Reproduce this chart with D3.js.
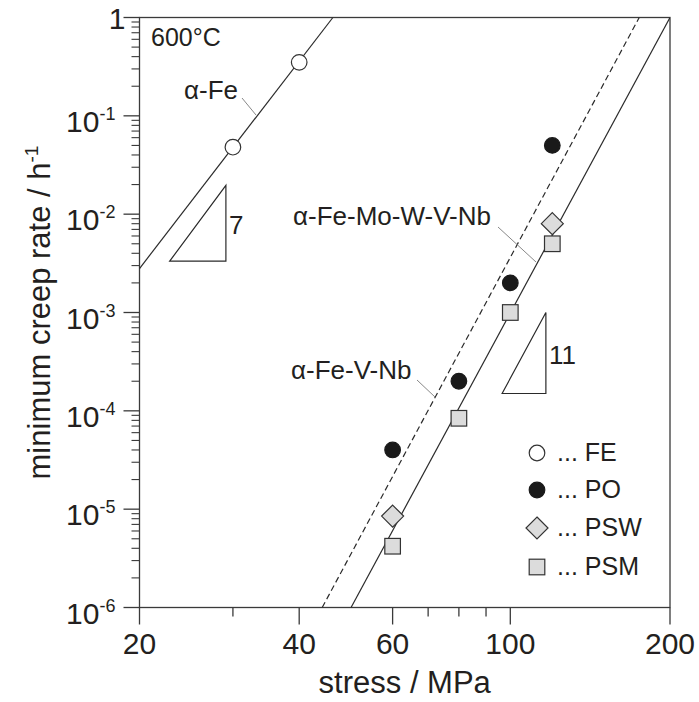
<!DOCTYPE html>
<html>
<head>
<meta charset="utf-8">
<script src="https://cdn.jsdelivr.net/npm/d3@7"></script>
<style>
  html, body { margin: 0; padding: 0; background: #fff; }
  svg { display: block; }
  text { font-family: "Liberation Sans", Arial, Helvetica, sans-serif; fill: #231f20; }
</style>
</head>
<body>
<svg id="chart" width="699" height="702"></svg>
<script>
// Measured minimum creep rates at 600 °C (stress in MPa, rate in 1/h)
const feStress  = [30, 40];
const feRate    = [0.048, 0.35];
const poStress  = [60, 80, 100, 120];
const poRate    = [4e-5, 2e-4, 2e-3, 0.05];
const pswStress = [60, 120];
const pswRate   = [8.5e-6, 8e-3];
const psmStress = [60, 80, 100, 120];
const psmRate   = [4.2e-6, 8.4e-5, 1e-3, 5e-3];

// Power-law fit lines (end points)
const fitFeStress     = [20, 46.3];
const fitFeRate       = [2.8e-3, 1];
const fitMoWStress    = [50.1, 200];
const fitMoWRate      = [1e-6, 1];
const fitVNbStress    = [44.2, 175];
const fitVNbRate      = [1e-6, 1];

// Slope triangles: [left, right] stress, [bottom, top] rate
const tri7Stress  = [22.8, 29.1];
const tri7Rate    = [3.33e-3, 1.96e-2];
const tri11Stress = [96.5, 116.7];
const tri11Rate   = [1.5e-4, 1.0e-3];

// Axis ticks
const xMajorTicks = [20, 40, 60, 100, 200];
const xMinorTicks = [30, 70, 80, 90];
const yDecades    = [-6, -5, -4, -3, -2, -1, 0];

const legendNames = ["FE", "PO", "PSW", "PSM"];

const svg = d3.select("#chart");
const L = 139.5, R = 670, T = 17.5, B = 607.5;

const x = d3.scaleLog().domain([20, 200]).range([L, R]);
const y = d3.scaleLog().domain([1e-6, 1]).range([B, T]);

const axisColor = "#3a3a3a";
const markStroke = "#333";
const grayFill = "#dcdcdc";

// ---- axes ----
const gAx = svg.append("g");
// frame
gAx.append("rect").attr("x", L).attr("y", T).attr("width", R - L).attr("height", B - T)
  .attr("fill", "none").attr("stroke", axisColor).attr("stroke-width", 1.3);

// x ticks (outward, downward)
xMajorTicks.forEach(v => {
  gAx.append("line").attr("x1", x(v)).attr("x2", x(v)).attr("y1", B).attr("y2", B + 17)
    .attr("stroke", axisColor).attr("stroke-width", 1.3);
  gAx.append("text").attr("x", x(v)).attr("y", B + 46).attr("text-anchor", "middle")
    .attr("font-size", 30).text(v);
});
xMinorTicks.forEach(v => {
  gAx.append("line").attr("x1", x(v)).attr("x2", x(v)).attr("y1", B).attr("y2", B + 9)
    .attr("stroke", axisColor).attr("stroke-width", 1.3);
});

// y ticks (outward, leftward)
yDecades.forEach(d => {
  const v = Math.pow(10, d);
  gAx.append("line").attr("x1", L - 16).attr("x2", L).attr("y1", y(v)).attr("y2", y(v))
    .attr("stroke", axisColor).attr("stroke-width", 1.3);
  if (d < 0) {
    for (let m = 2; m <= 9; m++) {
      const mv = m * v;
      gAx.append("line").attr("x1", L - 8).attr("x2", L).attr("y1", y(mv)).attr("y2", y(mv))
        .attr("stroke", axisColor).attr("stroke-width", 1.1);
    }
  }
  if (d === 0) {
    gAx.append("text").attr("x", L - 14).attr("y", y(v) + 11).attr("text-anchor", "end")
      .attr("font-size", 30).text("1");
  } else {
    const t = gAx.append("text").attr("x", L - 24).attr("y", y(v) + 16).attr("text-anchor", "end")
      .attr("font-size", 30);
    t.append("tspan").text("10");
    t.append("tspan").attr("font-size", 18).attr("dy", -12).text(d);
  }
});

// axis titles
svg.append("text").attr("x", (L + R) / 2).attr("y", 693).attr("text-anchor", "middle")
  .attr("font-size", 31).text("stress / MPa");
const yt = svg.append("text").attr("transform", `translate(50, ${(T + B) / 2}) rotate(-90)`)
  .attr("text-anchor", "middle").attr("font-size", 31);
yt.append("tspan").text("minimum creep rate / h");
yt.append("tspan").attr("font-size", 19).attr("dy", -12).text("-1");

// ---- clip ----
svg.append("clipPath").attr("id", "plotClip").append("rect")
  .attr("x", L).attr("y", T).attr("width", R - L).attr("height", B - T);
const plot = svg.append("g").attr("clip-path", "url(#plotClip)");

const line = d3.line().x(d => x(d[0])).y(d => y(d[1]));
const zip = (a, b) => a.map((v, i) => [v, b[i]]);

plot.append("path").attr("d", line(zip(fitFeStress, fitFeRate)))
  .attr("fill", "none").attr("stroke", "#2a2a2a").attr("stroke-width", 1.2);
plot.append("path").attr("d", line(zip(fitMoWStress, fitMoWRate)))
  .attr("fill", "none").attr("stroke", "#2a2a2a").attr("stroke-width", 1.2);
plot.append("path").attr("d", line(zip(fitVNbStress, fitVNbRate)))
  .attr("fill", "none").attr("stroke", "#2a2a2a").attr("stroke-width", 1.2)
  .attr("stroke-dasharray", "6,3.5");

// slope triangles
function slopeTriangle(sx, ry) {
  const pts = [[sx[0], ry[0]], [sx[1], ry[1]], [sx[1], ry[0]]];
  plot.append("path").attr("d", line(pts) + "Z")
    .attr("fill", "none").attr("stroke", "#2a2a2a").attr("stroke-width", 1.2);
}
slopeTriangle(tri7Stress, tri7Rate);
slopeTriangle(tri11Stress, tri11Rate);
const tri7Mid = Math.sqrt(tri7Rate[0] * tri7Rate[1]);
const tri11Mid = Math.sqrt(tri11Rate[0] * tri11Rate[1]);
svg.append("text").attr("x", x(tri7Stress[1]) + 3).attr("y", y(tri7Mid) + 11)
  .attr("font-size", 26).text("7");
svg.append("text").attr("x", x(tri11Stress[1]) + 3).attr("y", y(tri11Mid) + 11)
  .attr("font-size", 26).text("11");

// ---- markers ----
function circle(g, cx, cy, filled) {
  g.append("circle").attr("cx", cx).attr("cy", cy).attr("r", 7.8)
    .attr("fill", filled ? "#1a1a1a" : "#fff").attr("stroke", filled ? "#1a1a1a" : markStroke)
    .attr("stroke-width", 1.2);
}
function diamond(g, cx, cy) {
  const h = 11;
  g.append("path").attr("d", `M${cx},${cy - h}L${cx + h},${cy}L${cx},${cy + h}L${cx - h},${cy}Z`)
    .attr("fill", grayFill).attr("stroke", markStroke).attr("stroke-width", 1.2);
}
function square(g, cx, cy) {
  const h = 7.8;
  g.append("rect").attr("x", cx - h).attr("y", cy - h).attr("width", 2 * h).attr("height", 2 * h)
    .attr("fill", grayFill).attr("stroke", markStroke).attr("stroke-width", 1.2);
}

const pts = svg.append("g");
zip(feStress, feRate).forEach(d => circle(pts, x(d[0]), y(d[1]), false));
zip(poStress, poRate).forEach(d => circle(pts, x(d[0]), y(d[1]), true));
zip(pswStress, pswRate).forEach(d => diamond(pts, x(d[0]), y(d[1])));
zip(psmStress, psmRate).forEach(d => square(pts, x(d[0]), y(d[1])));

// ---- annotations ----
svg.append("text").attr("x", 151).attr("y", 46).attr("font-size", 25).text("600°C");

function labelWithLeader(txt, tx, ty, x1, y1, x2, y2) {
  svg.append("text").attr("x", tx).attr("y", ty).attr("font-size", 26).text(txt);
  svg.append("line").attr("x1", x1).attr("y1", y1).attr("x2", x2).attr("y2", y2)
    .attr("stroke", "#888").attr("stroke-width", 1);
}
labelWithLeader("α-Fe", 184, 99, 242, 98, 256, 115);
labelWithLeader("α-Fe-Mo-W-V-Nb", 293, 225, 498, 227, 536, 262);
labelWithLeader("α-Fe-V-Nb", 291, 379, 417, 380, 435, 397);

// ---- legend ----
const legY = [453, 490, 528, 567];
const legX = 537;
const lg = svg.append("g");
legendNames.forEach((name, i) => {
  const cy = legY[i];
  if (i === 0) circle(lg, legX, cy, false);
  if (i === 1) circle(lg, legX, cy, true);
  if (i === 2) diamond(lg, legX, cy);
  if (i === 3) square(lg, legX, cy);
  lg.append("text").attr("x", 557).attr("y", cy + 8).attr("font-size", 25).text("... " + name);
});
</script>
</body>
</html>
